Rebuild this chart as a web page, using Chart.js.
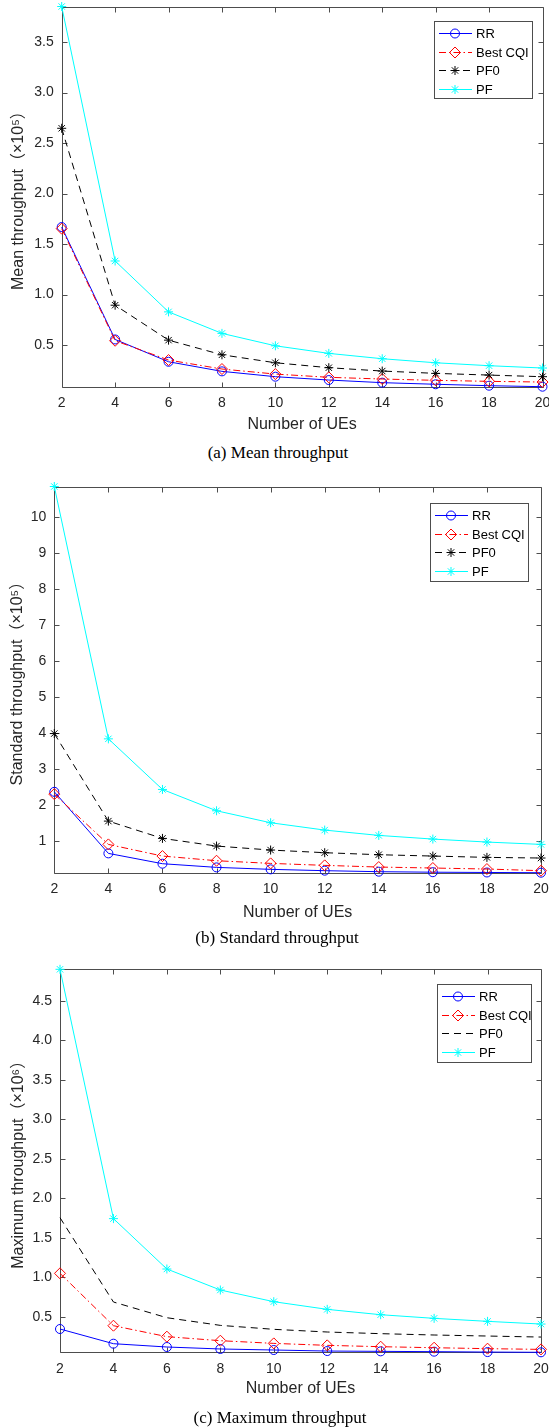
<!DOCTYPE html>
<html>
<head>
<meta charset="utf-8">
<script src="https://cdn.jsdelivr.net/npm/chart.js@4.4.0/dist/chart.umd.min.js"></script>
<style>
  body { margin: 0; width: 549px; height: 1428px; background: #fff; position: relative; overflow: hidden; }
  .panel { position: absolute; left: 0; }
  .caption { position: absolute; width: 400px; text-align: center; font-family: 'Liberation Serif', 'Times New Roman', serif; font-size: 17px; line-height: 20px; color: #000; }
</style>
</head>
<body>
<div class="panel" style="top:0"><canvas id="meanChart" width="549" height="440"></canvas></div>
<div class="caption" style="left:78px; top:443px">(a) Mean throughput</div>
<div class="panel" style="top:480px"><canvas id="stdChart" width="549" height="450"></canvas></div>
<div class="caption" style="left:77px; top:928px">(b) Standard throughput</div>
<div class="panel" style="top:960px"><canvas id="maxChart" width="549" height="445"></canvas></div>
<div class="caption" style="left:80px; top:1408px">(c) Maximum throughput</div>

<script>
const ueCounts = ['2', '4', '6', '8', '10', '12', '14', '16', '18', '20'];

// (a) mean throughput, x10^5
const meanRR  = [1.669, 0.556, 0.335, 0.240, 0.187, 0.154, 0.128, 0.112, 0.098, 0.088];
const meanCQI = [1.653, 0.543, 0.352, 0.263, 0.213, 0.181, 0.164, 0.151, 0.141, 0.134];
const meanPF0 = [2.647, 0.895, 0.549, 0.404, 0.325, 0.276, 0.243, 0.220, 0.203, 0.187];
const meanPF  = [3.853, 1.333, 0.829, 0.616, 0.493, 0.418, 0.365, 0.325, 0.296, 0.273];
const meanTicks = [0.5, 1.0, 1.5, 2.0, 2.5, 3.0, 3.5];

// (b) standard throughput, x10^5
const stdRR  = [2.360, 0.648, 0.361, 0.259, 0.204, 0.167, 0.139, 0.125, 0.117, 0.111];
const stdCQI = [2.296, 0.898, 0.574, 0.444, 0.370, 0.315, 0.268, 0.241, 0.213, 0.167];
const stdPF0 = [3.980, 1.546, 1.065, 0.852, 0.741, 0.667, 0.611, 0.574, 0.537, 0.519];
const stdPF  = [10.85, 3.833, 2.426, 1.833, 1.500, 1.296, 1.148, 1.046, 0.963, 0.898];
const stdTicks = [1, 2, 3, 4, 5, 6, 7, 8, 9, 10];

// (c) maximum throughput, x10^6
const maxRR  = [0.344, 0.158, 0.116, 0.091, 0.078, 0.065, 0.061, 0.057, 0.052, 0.049];
const maxCQI = [1.049, 0.386, 0.247, 0.196, 0.162, 0.137, 0.120, 0.107, 0.095, 0.086];
const maxPF0 = [1.754, 0.686, 0.487, 0.390, 0.340, 0.306, 0.285, 0.268, 0.255, 0.242];
const maxPF  = [4.900, 1.742, 1.104, 0.838, 0.690, 0.593, 0.525, 0.479, 0.441, 0.407];
const maxTicks = [0.5, 1.0, 1.5, 2.0, 2.5, 3.0, 3.5, 4.0, 4.5];

const sans = "'Liberation Sans', Arial, 'Noto Sans CJK SC', sans-serif";
const frameColor = '#4d4d4d';

// box with inward ticks on all four sides, like a matlab axes
const axesFrame = {
  id: 'axesFrame',
  beforeDatasetsDraw(chart) {
    const {ctx, chartArea: a, scales: {x, y}} = chart;
    const px = v => Math.round(v) + 0.5;
    ctx.save();
    ctx.strokeStyle = frameColor;
    ctx.lineWidth = 1;
    ctx.beginPath();
    ctx.rect(px(a.left), px(a.top), Math.round(a.right) - Math.round(a.left), Math.round(a.bottom) - Math.round(a.top));
    x.ticks.forEach((t, i) => {
      const xx = px(x.getPixelForTick(i));
      ctx.moveTo(xx, px(a.bottom)); ctx.lineTo(xx, px(a.bottom) - 5);
      ctx.moveTo(xx, px(a.top)); ctx.lineTo(xx, px(a.top) + 5);
    });
    y.ticks.forEach(t => {
      const yy = px(y.getPixelForValue(t.value));
      ctx.moveTo(px(a.left), yy); ctx.lineTo(px(a.left) + 5, yy);
      ctx.moveTo(px(a.right), yy); ctx.lineTo(px(a.right) - 5, yy);
    });
    ctx.stroke();
    ctx.restore();
  }
};

// legend box drawn inside the plot area
const insideLegend = {
  id: 'insideLegend',
  afterDatasetsDraw(chart, args, opts) {
    const ctx = chart.ctx;
    const {x, y, w, h} = opts;
    ctx.save();
    ctx.fillStyle = '#fff';
    ctx.fillRect(x, y, w, h);
    ctx.strokeStyle = frameColor;
    ctx.lineWidth = 1;
    ctx.strokeRect(x + 0.5, y + 0.5, w, h);
    ctx.font = '13px ' + sans;
    ctx.textBaseline = 'middle';
    chart.data.datasets.forEach((ds, i) => {
      const ry = Math.round(y + 12 + i * 18.5) + 0.5;
      ctx.beginPath();
      ctx.setLineDash(ds.borderDash || []);
      ctx.strokeStyle = ds.borderColor;
      ctx.lineWidth = 1;
      ctx.moveTo(x + 5, ry);
      ctx.lineTo(x + 38, ry);
      ctx.stroke();
      ctx.setLineDash([]);
      if (ds.pointRadius > 0) {
        ctx.fillStyle = 'rgba(0,0,0,0)';
        Chart.helpers.drawPoint(ctx, {pointStyle: ds.pointStyle, radius: ds.pointRadius, borderWidth: 1, rotation: 0}, x + 21, ry);
      }
      ctx.fillStyle = '#000';
      ctx.fillText(ds.label, x + 42, ry + 0.5);
    });
    ctx.restore();
  }
};

const makeSeries = (label, data, color, dash, style, radius, order) => ({
  label, data,
  borderColor: color,
  borderWidth: 1,
  borderDash: dash,
  pointStyle: style,
  pointRadius: radius,
  pointBorderColor: color,
  pointBackgroundColor: 'rgba(0,0,0,0)',
  pointBorderWidth: 1,
  tension: 0,
  clip: false,
  order
});

const makeChart = (id, series, yTicks, decimals, yTitle, g) => {
  const all = series.flatMap(s => s.data);
  return new Chart(document.getElementById(id), {
    type: 'line',
    data: { labels: ueCounts, datasets: series },
    options: {
      responsive: false,
      animation: false,
      devicePixelRatio: 1,
      events: [],
      layout: { padding: { left: 0, top: g.top, right: 549 - g.right, bottom: 0 } },
      scales: {
        x: {
          type: 'category',
          offset: false,
          grid: { display: false, drawTicks: false },
          border: { display: false },
          ticks: { color: '#262626', font: { family: sans, size: 14 }, padding: 8, autoSkip: false, maxRotation: 0 },
          title: { display: true, text: 'Number of UEs', color: '#262626', font: { family: sans, size: 16 }, padding: { top: 0, bottom: g.xTitlePad } },
          afterFit: s => { s.height = g.height - g.bottom; s.paddingLeft = 0; s.paddingRight = 0; }
        },
        y: {
          type: 'linear',
          bounds: 'data',
          min: Math.min(...all),
          max: Math.max(...all),
          grid: { display: false, drawTicks: false },
          border: { display: false },
          ticks: { color: '#262626', font: { family: sans, size: 14 }, padding: 8, autoSkip: false, includeBounds: false,
                   callback: v => v.toFixed(decimals) },
          title: { display: true, text: yTitle, color: '#262626', font: { family: sans, size: 16 }, padding: { top: g.yTitlePad, bottom: 0 } },
          afterBuildTicks: s => { s.ticks = yTicks.map(v => ({ value: v })); },
          afterFit: s => { s.width = g.left; s.paddingTop = 0; s.paddingBottom = 0; }
        }
      },
      plugins: {
        legend: { display: false },
        tooltip: { enabled: false },
        insideLegend: g.legend
      }
    },
    plugins: [axesFrame, insideLegend]
  });
};

const dashLine = [7, 5];
const dashDot = [7, 3, 1.5, 3];

makeChart('meanChart', [
  makeSeries('RR', meanRR, '#0000ff', [], 'circle', 4.5, 3),
  makeSeries('Best CQI', meanCQI, '#ff0000', dashDot, 'rectRot', 5.5, 2),
  makeSeries('PF0', meanPF0, '#000000', dashLine, 'star', 4.5, 1),
  makeSeries('PF', meanPF, '#00ffff', [], 'star', 4.5, 0)
], meanTicks, 1, 'Mean throughput（×10⁵）',
  { left: 61.7, top: 6, right: 542.5, bottom: 386.7, height: 440, xTitlePad: 5.4, yTitlePad: 9.4,
    legend: { x: 434, y: 21, w: 98, h: 77 } });

makeChart('stdChart', [
  makeSeries('RR', stdRR, '#0000ff', [], 'circle', 4.5, 3),
  makeSeries('Best CQI', stdCQI, '#ff0000', dashDot, 'rectRot', 5.5, 2),
  makeSeries('PF0', stdPF0, '#000000', dashLine, 'star', 4.5, 1),
  makeSeries('PF', stdPF, '#00ffff', [], 'star', 4.5, 0)
], stdTicks, 0, 'Standard throughput（×10⁵）',
  { left: 54.3, top: 6, right: 541, bottom: 392.7, height: 450, xTitlePad: 7.7, yTitlePad: 7.9,
    legend: { x: 430, y: 23, w: 98, h: 78 } });

makeChart('maxChart', [
  makeSeries('RR', maxRR, '#0000ff', [], 'circle', 4.5, 3),
  makeSeries('Best CQI', maxCQI, '#ff0000', dashDot, 'rectRot', 5.5, 2),
  makeSeries('PF0', maxPF0, '#000000', dashLine, 'star', 0, 1),
  makeSeries('PF', maxPF, '#00ffff', [], 'star', 4.5, 0)
], maxTicks, 1, 'Maximum throughput（×10⁶）',
  { left: 60, top: 9.3, right: 541, bottom: 392.3, height: 445, xTitlePad: 6.4, yTitlePad: 9.4,
    legend: { x: 437, y: 24, w: 94, h: 78 } });
</script>
</body>
</html>
